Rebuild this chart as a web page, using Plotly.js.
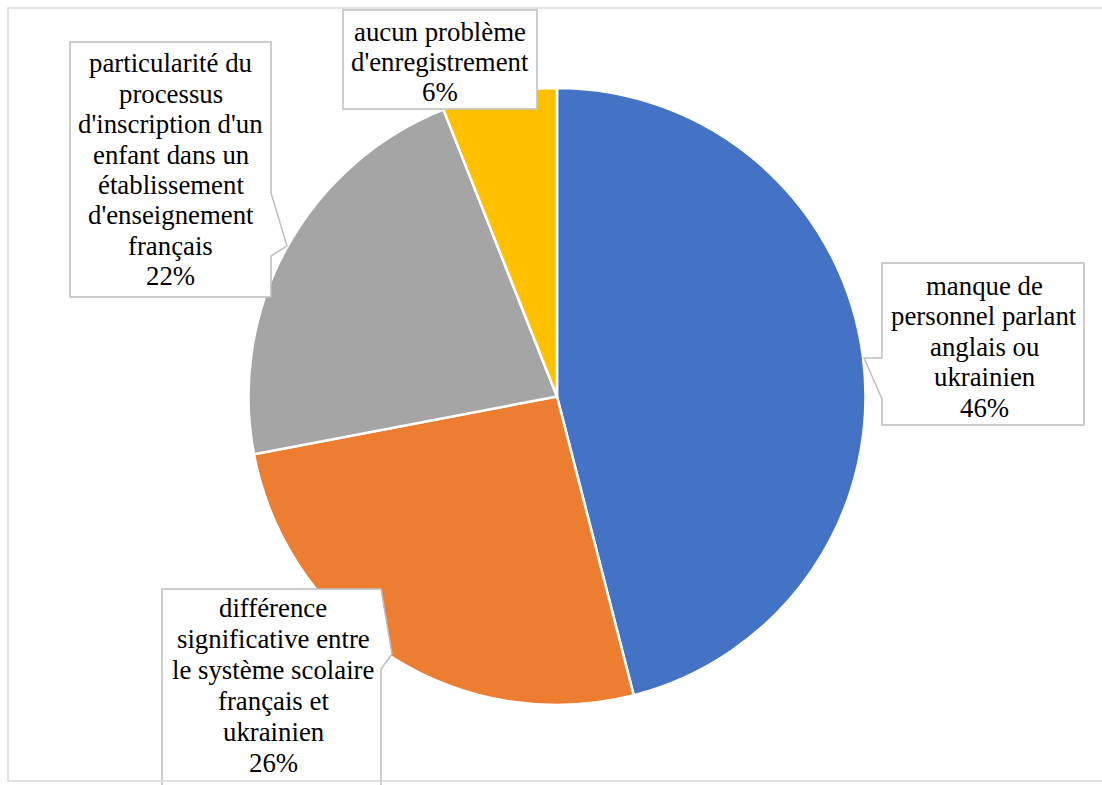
<!DOCTYPE html>
<html>
<head>
<meta charset="utf-8">
<script src="https://cdn.plot.ly/plotly-3.0.1.min.js"></script>
<style>
  html, body { margin: 0; padding: 0; background: #ffffff; }
  #chart { width: 1102px; height: 785px; }
</style>
</head>
<body>
<div id="chart"></div>
<script>
// ---- data ----
const labelLines = [
  ["manque de", "personnel parlant", "anglais ou", "ukrainien"],
  ["différence", "significative entre", "le système scolaire", "français et", "ukrainien"],
  ["particularité du", "processus", "d'inscription d'un", "enfant dans un", "établissement", "d'enseignement", "français"],
  ["aucun problème", "d'enregistrement"]
];
const categories = labelLines.map(l => l.join(" "));
const values = [46, 26, 22, 6];
const colors = ["#4472C4", "#ED7D31", "#A5A5A5", "#FFC000"];

// ---- layout helpers (pixel -> paper) ----
const W = 1102, H = 785;
const X = px => px / W;
const Y = py => 1 - py / H;
function pathOf(pts) {
  return "M" + pts.map(p => X(p[0]).toFixed(5) + "," + Y(p[1]).toFixed(5)).join(" L") + " Z";
}

// pie geometry in pixels
const pieCx = 557, pieCy = 396.5, pieR = 308.5;

// callout boxes (position/style only)
const callouts = [
  { cx: 984, base: 295, gap: 30.5,
    pts: [[882,263],[1084,263],[1084,425],[882,425],[882,399],[864,358],[882,358]] },
  { cx: 273, base: 617, gap: 31,
    pts: [[162,589],[381,589],[392,654],[381,669],[381,800],[162,800]] },
  { cx: 170.5, base: 72.5, gap: 30.4,
    pts: [[70,42],[271,42],[271,193],[287,246],[271,256],[271,297],[70,297]] },
  { cx: 440, base: 41, gap: 30,
    pts: [[343,10],[537,10],[537,109],[343,109]] }
];

const total = values.reduce((a, b) => a + b, 0);
const fs = 26.8;
const serif = "Liberation Serif";

const shapes = [];
const annotations = [];
callouts.forEach((c, i) => {
  shapes.push({
    type: "path", xref: "paper", yref: "paper", layer: "above",
    path: pathOf(c.pts),
    fillcolor: "#ffffff",
    line: { color: "#BFBFBF", width: 1.5 }
  });
  const lines = labelLines[i].concat([Math.round(values[i] / total * 100) + "%"]);
  lines.forEach((t, k) => {
    annotations.push({
      xref: "paper", yref: "paper",
      x: X(c.cx), y: Y(c.base + k * c.gap - 0.34 * fs),
      xanchor: "center", yanchor: "middle",
      text: t, showarrow: false,
      font: { family: serif, size: fs, color: "#000000" }
    });
  });
});

// outer chart frame
shapes.push({
  type: "rect", xref: "paper", yref: "paper", layer: "above",
  x0: X(8), x1: X(1110), y0: Y(781), y1: Y(8),
  line: { color: "#D9D9D9", width: 1.5 }, fillcolor: "rgba(0,0,0,0)"
});

const trace = {
  type: "pie",
  labels: categories,
  values: values,
  sort: false,
  direction: "clockwise",
  rotation: 0,
  textinfo: "none",
  hoverinfo: "label+percent",
  marker: { colors: colors, line: { color: "#ffffff", width: 2.5 } },
  domain: {
    x: [X(pieCx - pieR), X(pieCx + pieR)],
    y: [Y(pieCy + pieR), Y(pieCy - pieR)]
  },
  showlegend: false
};

const layout = {
  width: W, height: H,
  margin: { l: 0, r: 0, t: 0, b: 0 },
  font: { family: serif },
  paper_bgcolor: "#ffffff",
  plot_bgcolor: "#ffffff",
  showlegend: false,
  shapes: shapes,
  annotations: annotations
};

Plotly.newPlot("chart", [trace], layout, { staticPlot: true, displayModeBar: false });
</script>
</body>
</html>
